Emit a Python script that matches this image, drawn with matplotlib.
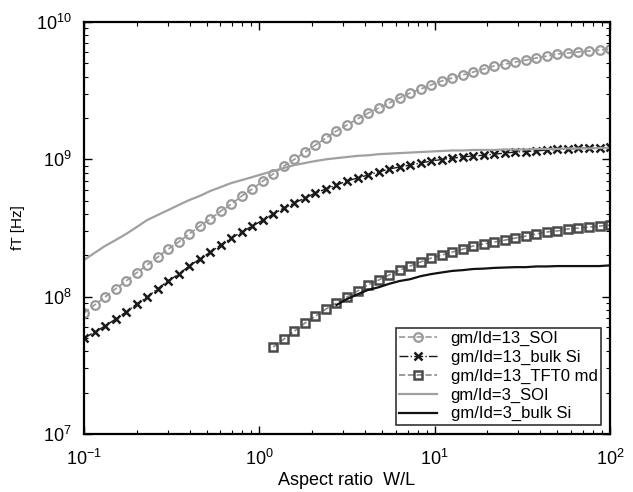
import matplotlib
matplotlib.use("Agg")
import matplotlib.pyplot as plt

plt.rcParams['font.family'] = ['Liberation Sans', 'DejaVu Sans']
plt.rcParams['mathtext.fontset'] = 'custom'
plt.rcParams['mathtext.rm'] = 'Liberation Sans'
plt.rcParams['mathtext.it'] = 'Liberation Sans:italic'

# aspect ratio grid (W/L)
wl = [0.1, 0.1148, 0.1318, 0.1514, 0.1738, 0.1995, 0.2291, 0.2630, 0.3020, 0.3467,
      0.3981, 0.4571, 0.5248, 0.6026, 0.6918, 0.7943, 0.9120, 1.047, 1.202, 1.380,
      1.585, 1.820, 2.089, 2.399, 2.754, 3.162, 3.631, 4.169, 4.786, 5.495,
      6.310, 7.244, 8.318, 9.550, 10.96, 12.59, 14.45, 16.60, 19.05, 21.88,
      25.12, 28.84, 33.11, 38.02, 43.65, 50.12, 57.54, 66.07, 75.86, 87.10, 100.0]

soi_13 = [7.60e7, 8.69e7, 9.94e7, 1.14e8, 1.30e8, 1.49e8, 1.70e8, 1.94e8, 2.22e8, 2.50e8,
          2.86e8, 3.27e8, 3.67e8, 4.20e8, 4.72e8, 5.41e8, 6.08e8, 6.95e8, 7.82e8, 8.94e8,
          1.00e9, 1.13e9, 1.27e9, 1.43e9, 1.61e9, 1.78e9, 1.97e9, 2.17e9, 2.36e9, 2.57e9,
          2.80e9, 3.04e9, 3.25e9, 3.48e9, 3.72e9, 3.91e9, 4.11e9, 4.32e9, 4.55e9, 4.79e9,
          4.94e9, 5.11e9, 5.28e9, 5.47e9, 5.65e9, 5.85e9, 5.94e9, 6.05e9, 6.15e9, 6.25e9, 6.36e9]

bulk_13 = [4.99e7, 5.52e7, 6.11e7, 6.87e7, 7.73e7, 8.83e7, 9.94e7, 1.14e8, 1.30e8, 1.46e8,
           1.67e8, 1.88e8, 2.11e8, 2.38e8, 2.67e8, 2.96e8, 3.27e8, 3.61e8, 4.00e8, 4.42e8,
           4.81e8, 5.23e8, 5.69e8, 6.08e8, 6.50e8, 6.95e8, 7.31e8, 7.69e8, 8.09e8, 8.50e8,
           8.79e8, 9.08e8, 9.40e8, 9.72e8, 9.97e8, 1.02e9, 1.04e9, 1.06e9, 1.07e9, 1.09e9,
           1.11e9, 1.13e9, 1.14e9, 1.15e9, 1.17e9, 1.18e9, 1.19e9, 1.20e9, 1.21e9, 1.21e9, 1.22e9]

# TFT data starts at the 19th grid point
tft_13 = [4.30e7, 4.91e7, 5.61e7, 6.42e7, 7.22e7, 8.12e7, 8.98e7, 9.94e7, 1.10e8, 1.22e8,
          1.32e8, 1.44e8, 1.56e8, 1.67e8, 1.79e8, 1.91e8, 2.01e8, 2.11e8, 2.22e8, 2.34e8,
          2.42e8, 2.50e8, 2.58e8, 2.67e8, 2.76e8, 2.86e8, 2.96e8, 3.01e8, 3.11e8, 3.16e8,
          3.21e8, 3.27e8, 3.32e8]

soi_3 = [1.85e8, 2.08e8, 2.34e8, 2.58e8, 2.86e8, 3.21e8, 3.61e8, 3.93e8, 4.27e8, 4.65e8,
         5.05e8, 5.41e8, 5.88e8, 6.28e8, 6.72e8, 7.06e8, 7.43e8, 7.82e8, 8.22e8, 8.65e8,
         9.08e8, 9.40e8, 9.72e8, 1.00e9, 1.02e9, 1.04e9, 1.06e9, 1.07e9, 1.09e9, 1.10e9,
         1.11e9, 1.12e9, 1.13e9, 1.14e9, 1.15e9, 1.16e9, 1.16e9, 1.17e9, 1.17e9, 1.17e9,
         1.18e9, 1.18e9, 1.18e9, 1.19e9, 1.19e9, 1.19e9, 1.20e9, 1.20e9, 1.20e9, 1.21e9, 1.21e9]

# bulk gm/Id=3 starts at the 25th grid point
bulk_3 = [8.69e7, 9.61e7, 1.04e8, 1.12e8, 1.17e8, 1.24e8, 1.30e8, 1.34e8, 1.41e8, 1.46e8,
          1.50e8, 1.54e8, 1.56e8, 1.59e8, 1.60e8, 1.62e8, 1.63e8, 1.64e8, 1.64e8, 1.66e8,
          1.66e8, 1.67e8, 1.67e8, 1.67e8, 1.67e8, 1.67e8, 1.69e8]

labels = ["gm/Id=13_SOI", "gm/Id=13_bulk Si", "gm/Id=13_TFT0 md",
          "gm/Id=3_SOI", "gm/Id=3_bulk Si"]

fig = plt.figure(figsize=(6.33, 4.92), dpi=100)
ax = fig.add_axes([0.1327, 0.1179, 0.8310, 0.8374])

ax.plot(wl, soi_13, linestyle='--', color='#9a9a9a', linewidth=1.2,
        marker='o', markersize=6.2, markerfacecolor='none', markeredgewidth=1.6,
        markeredgecolor='#9a9a9a', label=labels[0])
ax.plot(wl, bulk_13, linestyle='-.', color='#1a1a1a', linewidth=1.0,
        marker='x', markersize=5.8, markeredgewidth=1.8, label=labels[1])
ax.plot(wl[len(wl) - len(tft_13):], tft_13, linestyle='--', color='#8a8a8a', linewidth=1.2,
        marker='s', markersize=5.8, markerfacecolor='none', markeredgewidth=1.8,
        markeredgecolor='#4a4a4a', label=labels[2])
ax.plot(wl, soi_3, linestyle='-', color='#a0a0a0', linewidth=1.6, label=labels[3])
ax.plot(wl[len(wl) - len(bulk_3):], bulk_3, linestyle='-', color='#111111', linewidth=1.6,
        label=labels[4])

ax.set_xscale('log')
ax.set_yscale('log')
ax.set_xlim(0.1, 100)
ax.set_ylim(1e7, 1e10)

ax.tick_params(which='both', direction='in', top=True, right=True, labelsize=13)
ax.tick_params(which='major', length=6, width=1)
ax.tick_params(which='minor', length=3, width=0.8)
ax.tick_params(axis='x', which='major', pad=11)
ax.tick_params(axis='y', which='major', pad=9)
for s in ax.spines.values():
    s.set_linewidth(1.6)

ax.set_xlabel("Aspect ratio  W/L", fontsize=13, labelpad=2)
ax.set_ylabel("fT [Hz]", fontsize=11, labelpad=8)

leg = ax.legend(loc='lower right', fontsize=12, frameon=True, fancybox=False,
                edgecolor='black', handlelength=2.3, labelspacing=0.22,
                borderpad=0.2, borderaxespad=0.55, handletextpad=0.8)
leg.get_frame().set_linewidth(1.2)

plt.savefig("out.png", dpi=100)
